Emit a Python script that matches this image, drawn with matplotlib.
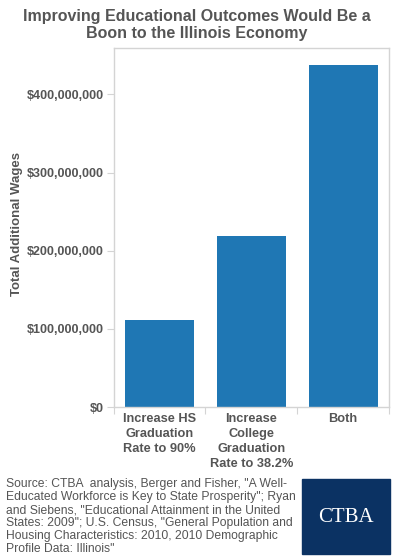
import matplotlib.pyplot as plt
import matplotlib.ticker as mticker
from matplotlib.patches import Rectangle

# Data
categories = ["Increase HS\nGraduation\nRate to 90%",
              "Increase\nCollege\nGraduation\nRate to 38.2%",
              "Both"]
wages = [111e6, 219e6, 437e6]
y_ticks = [0, 100e6, 200e6, 300e6, 400e6]

title = "Improving Educational Outcomes Would Be a\nBoon to the Illinois Economy"
source = ('Source: CTBA  analysis, Berger and Fisher, "A Well-\n'
          'Educated Workforce is Key to State Prosperity"; Ryan\n'
          'and Siebens, "Educational Attainment in the United\n'
          'States: 2009"; U.S. Census, "General Population and\n'
          'Housing Characteristics: 2010, 2010 Demographic\n'
          'Profile Data: Illinois"')

plt.rcParams['font.family'] = ['Liberation Sans', 'DejaVu Sans']
grey = '#555555'
edge = '#d4d4d4'

fig = plt.figure(figsize=(3.93, 5.6), dpi=100)
ax = fig.add_axes([113.5 / 393, 153 / 560, 275.5 / 393, 358.7 / 560])

x = range(len(categories))
ax.bar(x, wages, width=0.75, color='#1f77b4')
ax.set_xlim(-0.5, len(categories) - 0.5)
ax.set_ylim(0, 459e6)

ax.set_yticks(y_ticks)
ax.yaxis.set_major_formatter(mticker.FuncFormatter(lambda v, p: '${:,.0f}'.format(v)))
for lab in ax.get_yticklabels():
    lab.set_fontweight('bold')
ax.tick_params(axis='y', length=5, color=edge, labelcolor=grey, labelsize=9, pad=2)

# category labels between boundary ticks
ax.set_xticks([i - 0.5 for i in range(len(categories) + 1)])
ax.set_xticklabels([])
ax.set_xticks(list(x), minor=True)
ax.set_xticklabels(categories, minor=True, fontweight='bold', fontsize=9.2,
                   color=grey, linespacing=1.35, va='top')
ax.tick_params(axis='x', which='major', length=5, color=edge)
ax.tick_params(axis='x', which='minor', length=0, pad=4)

for s in ax.spines.values():
    s.set_color(edge)
    s.set_linewidth(1)

ax.set_ylabel("Total Additional Wages", fontsize=9.5, fontweight='bold', color=grey)
ax.yaxis.set_label_coords(-0.33, 0.51)

fig.text(0.5, 1 - 25 / 560, title, ha='center', va='center', fontsize=11.5,
         fontweight='bold', color=grey, linespacing=1.15)

fig.text(6 / 393, 1 - 478 / 560, source, ha='left', va='top', fontsize=8.7,
         color=grey, linespacing=1.12)

# CTBA logo box
fig.patches.append(Rectangle((302 / 393, 1 - 554 / 560), 88 / 393, 75 / 560,
                             transform=fig.transFigure, color='#0b3263'))
fig.text(346 / 393, 1 - 517 / 560, "CTBA", ha='center', va='center',
         fontsize=15, color='white', family='Liberation Serif')

fig.savefig('out.png', dpi=100)
